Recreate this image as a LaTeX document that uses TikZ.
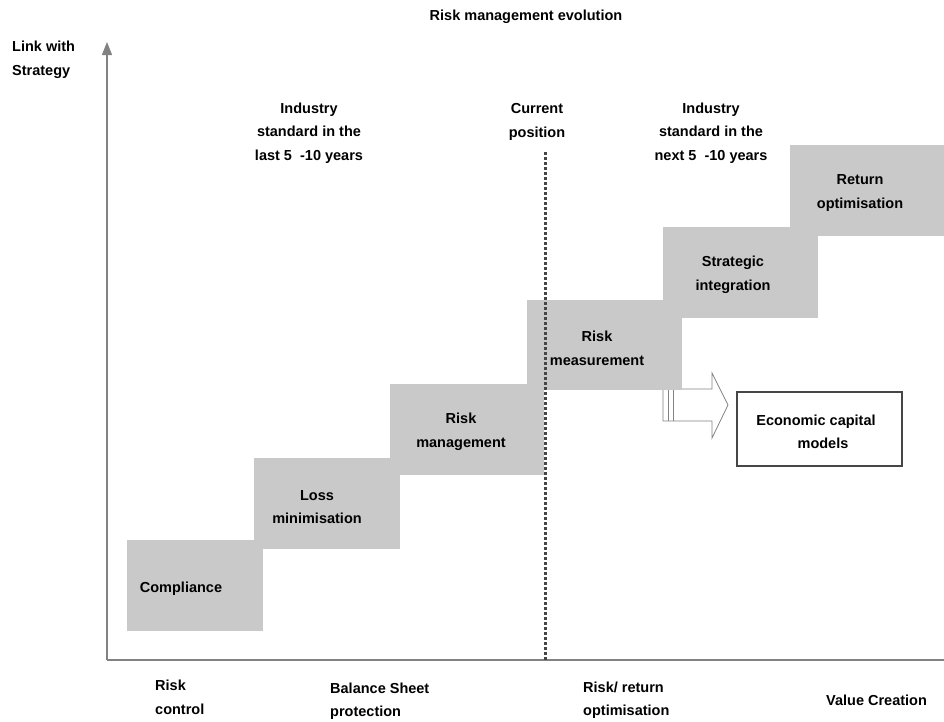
\documentclass[tikz,border=0pt]{standalone}
\usepackage{fontspec}
\setmainfont{Liberation Sans}
\usetikzlibrary{arrows.meta}
\definecolor{stepgray}{RGB}{201,201,201}
\definecolor{axisgray}{RGB}{130,130,130}
\definecolor{dotgray}{RGB}{70,70,70}

\begin{document}
\begin{tikzpicture}[x=1pt, y=-1pt,
  every node/.style={font=\fontsize{14.5}{23.5}\selectfont\bfseries, inner sep=0pt, align=center},
  stage/.style={fill=stepgray, minimum width=#1, minimum height=91pt},
  leftlbl/.style={anchor=west, align=left},
  axis/.style={draw=axisgray, line width=1.3pt}]
\useasboundingbox (0,0) rectangle (944,721);

\node (title) at (526,17) {Risk management evolution};
\node[leftlbl] (ylabel) at (12,60) {Link with\\Strategy};

\coordinate (o) at (107,660);
\coordinate (ytop) at (107,42);
\coordinate (xend) at (944,660);
\draw[axis, -{Triangle[width=10pt,length=13pt]}] (o) -- (ytop);
\draw[axis] (o) -- (xend);

\node (past) at (309,133) {Industry\\standard in the\\last 5~ -10 years};
\node (now) at (537,122) {Current\\position};
\node (future) at (711,133) {Industry\\standard in the\\next 5~ -10 years};

\coordinate (nowtop) at (545,152);
\coordinate (nowbot) at (545,660);

\draw[draw=axisgray, fill=white, line width=0.8pt]
  (663,389) -- (712,389) -- (712,373) -- (728,405) -- (712,438) -- (712,421) -- (663,421) -- cycle;
\draw[draw=axisgray, line width=0.8pt] (668,389) -- (668,421) (673,389) -- (673,421);

\node[stage=136pt] (compbox) at (195,585.5) {};
\node[stage=146pt] (lossbox) at (327,503) {};
\node[stage=154pt] (rmanbox) at (467,429.5) {};
\node[stage=155pt, minimum height=90pt] (rmeasbox) at (604.5,345) {};
\node[stage=155pt] (stratbox) at (740.5,272.5) {};
\node[stage=154pt] (retbox) at (867,190) {};

\draw[dotgray, line width=3pt, dash pattern=on 2.5pt off 2.5pt] (nowtop) -- (nowbot);

\node (comp) at (181,589) {Compliance};
\node (loss) at (317,507) {Loss\\minimisation};
\node (rman) at (461,432) {Risk\\management};
\node (rmeas) at (597,348.5) {Risk\\measurement};
\node (strat) at (733,275) {Strategic\\integration};
\node (ret) at (860,193) {Return\\optimisation};

\node[draw=dotgray, line width=1.2pt, fill=white, minimum width=165pt, minimum height=74pt] (ecobox) at (819.5,429) {};
\node (eco) at (816,432) {Economic capital\\\hspace*{14pt}models};

\node[leftlbl] (xa) at (155,697.5) {Risk\\control};
\node[leftlbl] (xb) at (330,701) {Balance Sheet\\protection};
\node[leftlbl] (xc) at (583,700) {Risk/ return\\optimisation};
\node[leftlbl] (xd) at (826,700) {Value Creation};
\end{tikzpicture}
\end{document}
